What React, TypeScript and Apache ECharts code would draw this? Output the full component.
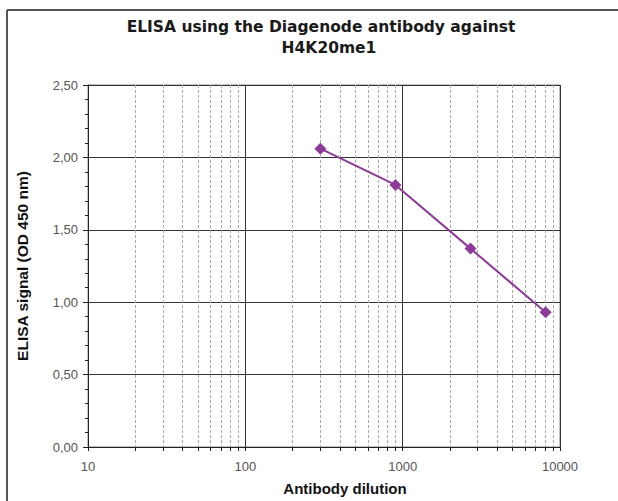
import React, { useEffect, useRef } from "react";
import * as echarts from "echarts";

const dilutions = [300, 900, 2700, 8100];
const signals = [2.06, 1.81, 1.37, 0.93];
const titleLines = ["ELISA using the Diagenode antibody against", "H4K20me1"];
const xName = "Antibody dilution";
const yName = "ELISA signal (OD 450 nm)";

export default function App() {
  const ref = useRef<HTMLDivElement>(null);
  useEffect(() => {
    document.body.style.margin = "0";
    const chart = echarts.init(ref.current!, undefined, { renderer: "svg" });
    const font = "Liberation Sans, Arial, sans-serif";
    const titleFont = "bold 15.5px 'DejaVu Sans', sans-serif";
    chart.setOption({
      animation: false,
      backgroundColor: "#fff",
      graphic: [
        { type: "line", shape: { x1: 7, y1: 10, x2: 618, y2: 10 }, style: { stroke: "#555", lineWidth: 2 } },
        { type: "line", shape: { x1: 7, y1: 10, x2: 7, y2: 501 }, style: { stroke: "#555", lineWidth: 2 } },
        {
          type: "text",
          x: 321,
          y: 27,
          style: { text: titleLines[0], font: titleFont, fill: "#1a1a1a", textAlign: "center", textVerticalAlign: "middle" },
        },
        {
          type: "text",
          x: 329,
          y: 48,
          style: { text: titleLines[1], font: titleFont, fill: "#1a1a1a", textAlign: "center", textVerticalAlign: "middle" },
        },
      ],
      grid: { left: 88, right: 58, top: 85, bottom: 54, show: true, borderColor: "#888", borderWidth: 1 },
      xAxis: {
        type: "log",
        logBase: 10,
        min: 10,
        max: 10000,
        name: xName,
        nameLocation: "middle",
        nameGap: 34,
        nameTextStyle: { fontFamily: font, fontSize: 15, fontWeight: "bold", color: "#111", padding: [0, 0, 0, 42] },
        axisLine: { show: true, lineStyle: { color: "#222", width: 1 } },
        axisTick: { show: true, length: 4, lineStyle: { color: "#222" } },
        minorTick: { show: true, splitNumber: 9, length: 4, lineStyle: { color: "#222" } },
        axisLabel: { fontFamily: font, fontSize: 13, color: "#555", margin: 13, formatter: (v: number) => String(v) },
        splitLine: { show: true, lineStyle: { color: "#333", width: 1 } },
        minorSplitLine: { show: true, lineStyle: { color: "#aaa", type: [3, 2], width: 1 } },
      },
      yAxis: {
        type: "value",
        min: 0,
        max: 2.5,
        interval: 0.5,
        name: yName,
        nameLocation: "middle",
        nameGap: 58,
        nameTextStyle: { fontFamily: font, fontSize: 15.5, fontWeight: "bold", color: "#111" },
        axisLine: { show: true, lineStyle: { color: "#222", width: 1 } },
        axisTick: { show: true, length: 5, lineStyle: { color: "#222" } },
        minorTick: { show: true, splitNumber: 5, length: 3, lineStyle: { color: "#222" } },
        axisLabel: {
          fontFamily: font,
          fontSize: 13,
          color: "#555",
          margin: 10,
          formatter: (v: number) => v.toFixed(2).replace(".", ","),
        },
        splitLine: { show: true, lineStyle: { color: "#333", width: 1 } },
      },
      series: [
        {
          type: "line",
          data: dilutions.map((d, i) => [d, signals[i]]),
          symbol: "diamond",
          symbolSize: 12,
          itemStyle: { color: "#8e3a98" },
          lineStyle: { color: "#8e3a98", width: 2 },
        },
      ],
    });
    return () => chart.dispose();
  }, []);
  return <div ref={ref} style={{ width: 618, height: 501 }} />;
}
